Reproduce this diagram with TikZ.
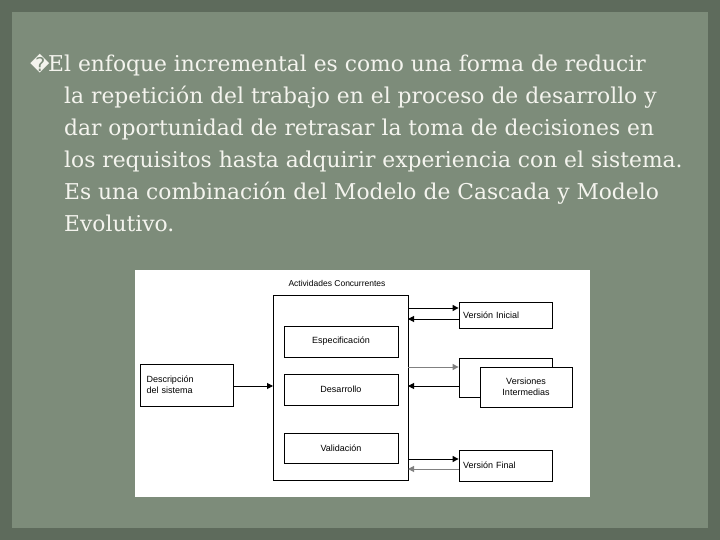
\documentclass[tikz,border=0pt]{standalone}
\usepackage{fontspec}
\setmainfont{DejaVu Serif}
\newfontfamily\dsans{DejaVu Sans}
\newfontfamily\dia{Liberation Sans}
\usetikzlibrary{arrows.meta}
\definecolor{bg}{HTML}{7D8C7A}
\definecolor{bgd}{HTML}{5E6B5C}
\definecolor{txt}{HTML}{F4F4EE}
\tikzset{
 box/.style={draw=black,line width=0.8pt,fill=white},
 lbl/.style={font=\dia\fontsize{9}{11}\selectfont,align=center},
 arr/.style={-{Triangle[length=6pt,width=6pt]},line width=1pt},
 para/.style={anchor=base west,text=txt,font=\fontsize{21.8}{32}\selectfont,inner sep=0}
}
\begin{document}
\begin{tikzpicture}[x=1pt,y=-1pt]
\fill[bgd] (0,0) rectangle (720,540);
\fill[bg] (12,12) rectangle (708,528);
\useasboundingbox (0,0) rectangle (720,540);
\node[anchor=base west,text=txt,font=\dsans\fontsize{19}{19}\selectfont,inner sep=0] (bul) at (30,72) {�};
\node[para] (l1) at (48,72) {El enfoque incremental es como una forma de reducir};
\foreach \t [count=\i] in {la repetición del trabajo en el proceso de desarrollo y,dar oportunidad de retrasar la toma de decisiones en,los requisitos hasta adquirir experiencia con el sistema.,Es una combinación del Modelo de Cascada y Modelo,Evolutivo.}
  \node[para] (t\i) at (64,72+32*\i) {\t};
% panel
\fill[white] (135,270) rectangle (590,497);
\node[lbl,font=\dia\fontsize{8.5}{10}\selectfont] (title) at (337,283) {Actividades Concurrentes};
\draw[box] (273,295) rectangle (408,480);
\coordinate (big) at (273,386);
\node[box,lbl,minimum width=114pt,minimum height=31pt] (esp) at (341,341.5) {Especificación};
\node[box,lbl,minimum width=114pt,minimum height=31pt] (des) at (341,389.5) {Desarrollo};
\node[box,lbl,minimum width=114pt,minimum height=30pt] (val) at (341,448) {Validación};
\node[box,lbl,minimum width=93pt,minimum height=42pt,text width=80pt,align=left] (desc) at (186.5,385) {Descripción\\del sistema};
\node[box,lbl,minimum width=93pt,minimum height=26pt,text width=85pt,align=left] (vi) at (505.5,315) {Versión Inicial};
\node[box,minimum width=93pt,minimum height=39pt] (vb) at (505.5,377.5) {};
\node[box,lbl,minimum width=92pt,minimum height=40pt] (vm) at (526,387) {Versiones\\Intermedias};
\node[box,lbl,minimum width=93pt,minimum height=31pt,text width=85pt,align=left] (vf) at (505.5,465.5) {Versión Final};
\draw[arr] (desc.east |- big) -- (big);
\draw[arr] (408,308) -- (vi.west |- 0,308);
\draw[arr] (vi.west |- 0,319) -- (408,319);
\draw[arr,draw=gray] (408,367) -- (vb.west |- 0,367);
\draw[arr] (vb.west |- 0,386) -- (408,386);
\draw[arr] (408,459) -- (vf.west |- 0,459);
\draw[arr,draw=gray] (vf.west |- 0,469) -- (408,469);
\end{tikzpicture}
\end{document}
